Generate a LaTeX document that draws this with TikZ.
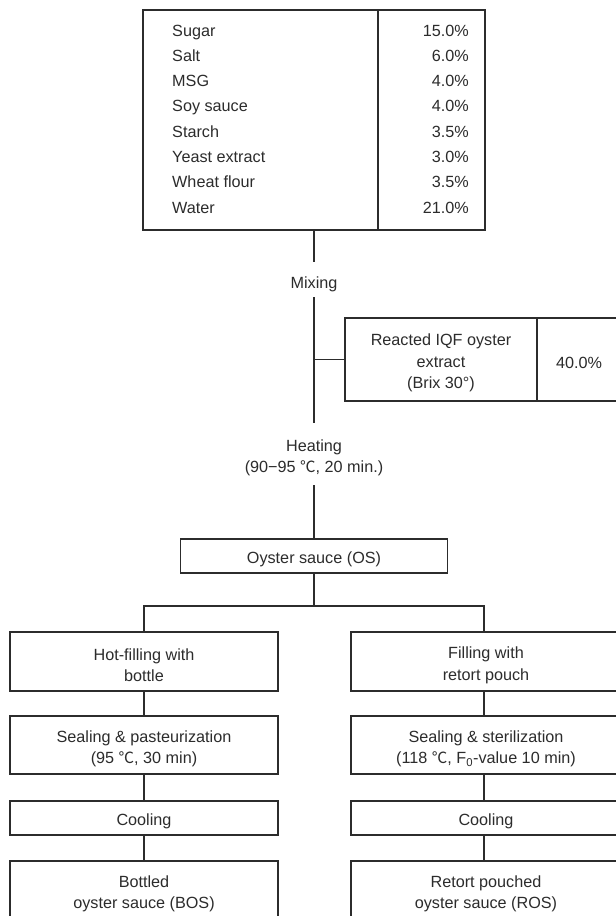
\documentclass[tikz,border=0pt]{standalone}
\usepackage{fontspec}
\setmainfont{Liberation Sans}
\newfontfamily\cjkfont{Noto Sans CJK KR}
\definecolor{ink}{HTML}{2C2C2C}
\newcommand\degc{{\cjkfont\fontsize{15.5}{15.5}\selectfont ℃}}
\newcommand\lift{\rule{0pt}{19pt}}
\newcommand\fsz{\fontsize{16.2}{21.5}\selectfont}
\begin{document}
\begin{tikzpicture}[x=1pt,y=-1pt,
  box/.style={draw=ink, line width=1.6pt, inner sep=0pt, align=center, text=ink, font=\fsz},
  lbl/.style={inner sep=0pt, align=center, text=ink, font=\fsz},
  conn/.style={draw=ink, line width=1.6pt}]
\fill[white] (0,0) rectangle (616,916);
\useasboundingbox (0,0) rectangle (616,916);

% ingredient table
\node[box, minimum width=342pt, minimum height=220pt] (tbl) at (314,120) {};
\draw[conn] (378,10) -- (378,230);
\foreach \t/\p [count=\i] in {Sugar/15.0\%, Salt/6.0\%, MSG/4.0\%, Soy sauce/4.0\%, Starch/3.5\%, Yeast extract/3.0\%, Wheat flour/3.5\%, Water/21.0\%}{
  \node[lbl, anchor=base west] (ing\i) at (172,{36+25.3*(\i-1)}) {\t};
  \node[lbl, anchor=base east] (pct\i) at (469,{36+25.3*(\i-1)}) {\p};
}

% main line
\node[lbl, minimum height=35pt] (mix) at (314,279.5) {\rule{0pt}{22pt}Mixing};
\node[lbl, minimum height=62pt] (heat) at (314,454) {\lift Heating\\(90−95 \degc, 20 min.)};
\node[box, minimum width=192pt, minimum height=83pt] (rx) at (441,359.5) {\lift Reacted IQF oyster\\extract\\(Brix 30°)};
\node[box, minimum width=84pt, minimum height=83pt] (rxp) at (579,359.5) {\lift 40.0\%};
\node[box, minimum width=267pt, minimum height=34pt] (os) at (314,556) {\lift Oyster sauce (OS)};
\coordinate (br) at (314,606);

% left column
\node[box, minimum width=268pt, minimum height=59pt] (hf) at (144,661.5) {\lift Hot-filling with\\bottle};
\node[box, minimum width=268pt, minimum height=58pt] (sp) at (144,745) {\lift Sealing \& pasteurization\\(95 \degc, 30 min)};
\node[box, minimum width=268pt, minimum height=34pt] (cl) at (144,818) {\lift Cooling};
\node[box, minimum width=268pt, minimum height=58pt] (bo) at (144,890) {\lift Bottled\\oyster sauce (BOS)};

% right column
\node[box, minimum width=270pt, minimum height=59pt] (fr) at (486,661.5) {\lift Filling with\\retort pouch};
\node[box, minimum width=270pt, minimum height=58pt] (ss) at (486,745) {\lift Sealing \& sterilization\\(118 \degc, F\textsubscript{0}-value 10 min)};
\node[box, minimum width=270pt, minimum height=34pt] (cr) at (486,818) {\lift Cooling};
\node[box, minimum width=270pt, minimum height=58pt] (ro) at (486,890) {\lift Retort pouched\\oyster sauce (ROS)};

% connectors
\draw[conn] (tbl.south) -- (mix.north);
\draw[conn] (mix.south) -- (heat.north);
\draw[conn] (rx.west) -- (rx.west -| mix.south);
\draw[conn] (heat.south) -- (os.north);
\draw[conn] (os.south) -- (br);
\draw[conn] (hf.north) |- (br) -| ([xshift=-2pt]fr.north);
\draw[conn] (hf.south) -- (sp.north);
\draw[conn] (sp.south) -- (cl.north);
\draw[conn] (cl.south) -- (bo.north);
\draw[conn] ([xshift=-2pt]fr.south) -- ([xshift=-2pt]ss.north);
\draw[conn] ([xshift=-2pt]ss.south) -- ([xshift=-2pt]cr.north);
\draw[conn] ([xshift=-2pt]cr.south) -- ([xshift=-2pt]ro.north);
\end{tikzpicture}
\end{document}
